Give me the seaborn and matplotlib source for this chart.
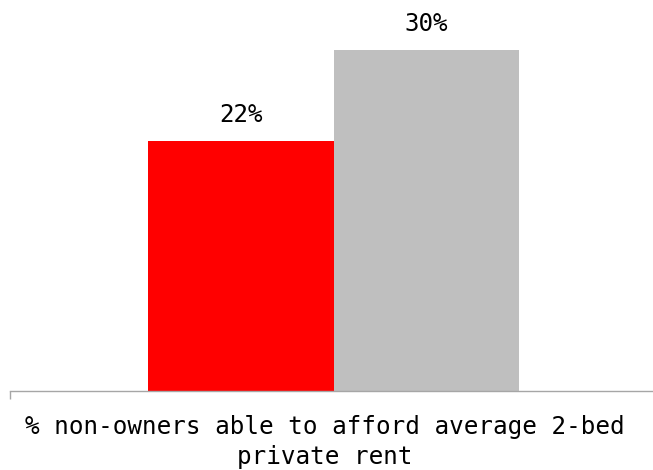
import matplotlib
matplotlib.use("Agg")
import matplotlib.pyplot as plt
import matplotlib.transforms as mtransforms
import seaborn as sns
import pandas as pd

# Values
category = ["% non-owners able to afford average 2-bed\nprivate rent"]
series = ["Local", "National"]
values = [22, 30]
value_labels = ["22%", "30%"]
colors = ["#FF0000", "#BFBFBF"]

df = pd.DataFrame({
    "measure": category * len(series),
    "area": series,
    "pct": values,
})

sns.set_theme(style="white")
plt.rcParams["font.family"] = ["DejaVu Sans Mono", "DejaVu Sans"]

fig = plt.figure(figsize=(6.53, 4.70), dpi=100)
ax = fig.add_axes([10 / 653, 79 / 470, 647 / 653, 391 / 470])

sns.barplot(
    data=df, x="measure", y="pct", hue="area",
    palette=colors, width=0.573, gap=0, saturation=1,
    linewidth=0, edgecolor="none",
    legend=False, ax=ax,
)

ax.set_xlim(-0.5, 0.5)
ax.set_ylim(0, 34.4)

# value labels above bars
for patch, text in zip(ax.patches, value_labels):
    x = patch.get_x() + patch.get_width() / 2
    y = patch.get_height()
    ax.annotate(text, (x, y), xytext=(0, 19 * 0.72), textcoords="offset points",
                ha="center", va="baseline", fontsize=17.4, color="black")

for side in ["top", "right", "left"]:
    ax.spines[side].set_visible(False)
ax.spines["bottom"].set_color("#A6A6A6")
ax.spines["bottom"].set_linewidth(1.0)

ax.set_yticks([])
ax.set_ylabel("")
ax.set_xlabel("")
ax.tick_params(axis="x", which="major", length=0, pad=17, labelsize=17.5,
               labelcolor="black")
ax.set_xticks([-0.5], minor=True)
ax.tick_params(axis="x", which="minor", length=6, width=1.0, color="#A6A6A6",
               direction="out", bottom=True)

# category label sits slightly left of the bar group
shift = mtransforms.ScaledTranslation(-9 / 100, 0, fig.dpi_scale_trans)
for lbl in ax.get_xticklabels():
    lbl.set_linespacing(1.32)
    lbl.set_transform(lbl.get_transform() + shift)

fig.savefig("out.png", dpi=100, facecolor="white")
